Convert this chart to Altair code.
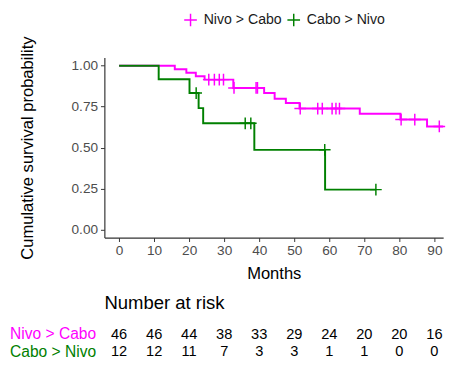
import altair as alt
import pandas as pd

groups = ["Nivo > Cabo", "Cabo > Nivo"]
colors = ["#FF00FF", "#008000"]

# Kaplan-Meier steps (time in months, survival after the step)
nivo_t = [0, 15.9, 19.2, 21.9, 24.4, 32.6, 41.4, 44.4, 47.6, 51.5, 68.7, 80.3, 87.9, 92.5]
nivo_s = [1.0, 0.978, 0.957, 0.935, 0.915, 0.864, 0.833, 0.798, 0.772, 0.738, 0.707, 0.671, 0.629, 0.629]
cabo_t = [0, 11.3, 20.1, 22.7, 24.0, 38.6, 58.8, 73.3]
cabo_s = [1.0, 0.917, 0.833, 0.741, 0.648, 0.486, 0.243, 0.243]

# censored observations
nivo_ct = [25.6, 27.2, 28.6, 29.8, 32.8, 39.1, 39.5, 51.7, 56.7, 58.0, 60.8, 61.9, 62.9, 80.5, 84.4, 91.4]
nivo_cs = [0.915, 0.915, 0.915, 0.915, 0.864, 0.864, 0.864, 0.738, 0.738, 0.738, 0.738, 0.738, 0.738, 0.671, 0.671, 0.629]
cabo_ct = [22.0, 36.0, 37.6, 58.7, 73.3]
cabo_cs = [0.833, 0.648, 0.648, 0.486, 0.243]

# number at risk
risk_months = [0, 10, 20, 30, 40, 50, 60, 70, 80, 90]
nivo_risk = [46, 46, 44, 38, 33, 29, 24, 20, 20, 16]
cabo_risk = [12, 12, 11, 7, 3, 3, 1, 1, 0, 0]

y_ticks = [0.0, 0.25, 0.5, 0.75, 1.0]

FONT = "Liberation Sans"
PLUS = "M-1,0H1M0,-1V1"

steps = pd.DataFrame(
    [{"t": t, "s": s, "g": groups[0]} for t, s in zip(nivo_t, nivo_s)]
    + [{"t": t, "s": s, "g": groups[1]} for t, s in zip(cabo_t, cabo_s)]
)
cens = pd.DataFrame(
    [{"t": t, "s": s, "g": groups[0]} for t, s in zip(nivo_ct, nivo_cs)]
    + [{"t": t, "s": s, "g": groups[1]} for t, s in zip(cabo_ct, cabo_cs)]
)
risk = pd.DataFrame(
    [{"m": m, "n": n, "g": groups[0]} for m, n in zip(risk_months, nivo_risk)]
    + [{"m": m, "n": n, "g": groups[1]} for m, n in zip(risk_months, cabo_risk)]
)

xscale = alt.Scale(domain=[-4.2, 92.5], nice=False, zero=False)
cscale = alt.Scale(domain=groups, range=colors)
color = alt.Color(
    "g:N",
    scale=cscale,
    legend=alt.Legend(
        title=None,
        orient="none",
        direction="horizontal",
        legendX=81,
        legendY=-46,
        symbolType=PLUS,
        symbolSize=169,
        symbolStrokeWidth=1.5,
        symbolFillColor="transparent",
        labelFontSize=14.5,
        labelFont=FONT,
        labelColor="#1a1a1a",
        labelOffset=6,
        columnPadding=2,
    ),
)

x = alt.X(
    "t:Q",
    scale=xscale,
    axis=alt.Axis(
        values=risk_months,
        title="Months",
        titleFontSize=17,
        titleFontWeight="normal",
        titlePadding=9,
        labelFontSize=14,
        labelPadding=2,
        labelOverlap=False,
        labelFlush=False,
        tickSize=4,
    ),
)
y = alt.Y(
    "s:Q",
    scale=alt.Scale(domain=[-0.05, 1.05], nice=False),
    axis=alt.Axis(
        values=y_ticks,
        format=".2f",
        title="Cumulative survival probability",
        titleFontSize=17,
        titleFontWeight="normal",
        titlePadding=36,
        labelFontSize=14,
        labelPadding=3,
        labelOverlap=False,
        tickSize=4,
    ),
)

lines = alt.Chart(steps).mark_line(interpolate="step-after", strokeWidth=2).encode(
    x=x, y=y, color=color
)
marks = alt.Chart(cens).mark_point(shape=PLUS, size=144, strokeWidth=1.5, filled=False, opacity=1).encode(
    x=x, y=y, color=alt.Color("g:N", scale=cscale, legend=None)
)
main = alt.layer(lines, marks).properties(width=348, height=185)

table = (
    alt.Chart(risk)
    .mark_text(fontSize=15, font=FONT, color="#000000")
    .encode(
        x=alt.X("m:Q", scale=xscale, axis=None),
        y=alt.Y(
            "g:N",
            sort=groups,
            scale=alt.Scale(domain=groups, paddingInner=0, paddingOuter=0),
            axis=alt.Axis(
                title=None,
                domain=False,
                ticks=False,
                labelFontSize=16,
                labelPadding=9,
                labelColor={"expr": "datum.value == 'Nivo > Cabo' ? '#FF00FF' : '#008000'"},
            ),
        ),
        text="n:Q",
    )
    .properties(
        width=348,
        height=36,
        title=alt.TitleParams(
            "Number at risk",
            anchor="start",
            frame="group",
            fontSize=19,
            fontWeight="normal",
            font=FONT,
            color="#000000",
            offset=13,
        ),
    )
)

chart = (
    alt.vconcat(main, table, spacing=13)
    .properties(padding={"left": 1, "top": 0, "right": 0, "bottom": 0})
    .configure(font=FONT)
    .configure_view(stroke=None)
    .configure_axis(
        grid=False,
        domainColor="#333333",
        tickColor="#333333",
        domainWidth=1.2,
        labelColor="#4d4d4d",
        titleColor="#000000",
        labelFont=FONT,
        titleFont=FONT,
    )
)

chart.save("out.html", embed_options={"renderer": "svg", "actions": False})
